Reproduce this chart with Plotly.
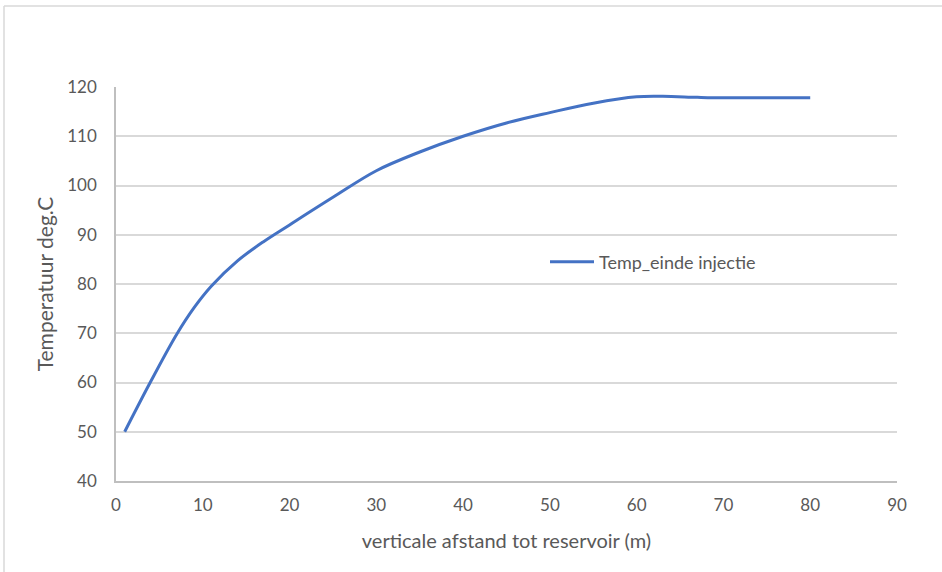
import plotly.graph_objects as go

# Data
afstand_m = [1, 4, 7, 9, 11, 14, 17, 20, 25, 30, 35, 40, 45, 50, 55, 60, 63, 67, 70, 75, 80]
temp_einde_injectie = [50, 60.2, 69.8, 75.2, 79.6, 84.7, 88.6, 92.0, 97.6, 103, 106.8,
                       110, 112.7, 114.8, 116.7, 118, 118.1, 117.9, 117.8, 117.8, 117.8]

x_ticks = [0, 10, 20, 30, 40, 50, 60, 70, 80, 90]
y_ticks = [40, 50, 60, 70, 80, 90, 100, 110, 120]

W, H = 942, 572
L, R, T, B = 116, 45, 87, 91
pw, ph = W - L - R, H - T - B

def px(xp):
    return (xp - L) / pw

def py(yp):
    return (H - B - yp) / ph

FONT = "Lato, Open Sans, sans-serif"
GRAY = "#595959"

fig = go.Figure()
fig.add_trace(go.Scatter(
    x=afstand_m, y=temp_einde_injectie, mode="lines",
    name="Temp_einde injectie",
    line=dict(color="#4472C4", width=3, shape="spline", smoothing=1.0),
))

fig.update_layout(
    width=W, height=H,
    margin=dict(l=L, r=R, t=T, b=B),
    paper_bgcolor="white", plot_bgcolor="white",
    font=dict(family=FONT, size=17, color=GRAY),
    showlegend=True,
    legend=dict(x=px(545), y=py(262), xanchor="left", yanchor="middle",
                itemwidth=44,
                bgcolor="rgba(0,0,0,0)", font=dict(size=18, color=GRAY)),
    xaxis=dict(range=[0, 90], tickvals=x_ticks, showgrid=False, zeroline=False,
               showline=True, linecolor="#bfbfbf", linewidth=1.5, ticks="",
               ticklabelstandoff=8, tickfont=dict(size=17, color=GRAY),
               title=dict(text="verticale afstand tot reservoir (m)",
                          font=dict(size=20, color=GRAY), standoff=20)),
    yaxis=dict(range=[40, 120], tickvals=y_ticks, showgrid=True,
               gridcolor="#d9d9d9", gridwidth=1.5, zeroline=False,
               showline=True, linecolor="#bfbfbf", linewidth=1.5, ticks="",
               ticklabelstandoff=14, tickfont=dict(size=17, color=GRAY),
               title=dict(text="Temperatuur deg.C",
                          font=dict(size=21, color=GRAY), standoff=8)),
    shapes=[
        dict(type="line", xref="paper", yref="paper",
             x0=px(4), x1=px(W), y0=py(6), y1=py(6),
             line=dict(color="#d9d9d9", width=1.5)),
        dict(type="line", xref="paper", yref="paper",
             x0=px(4), x1=px(4), y0=py(6), y1=py(H),
             line=dict(color="#d9d9d9", width=1.5)),
    ],
)

fig.write_html("out.html", config={"displayModeBar": False},
               post_script="document.body.style.margin='0px';document.body.style.overflow='hidden';")
